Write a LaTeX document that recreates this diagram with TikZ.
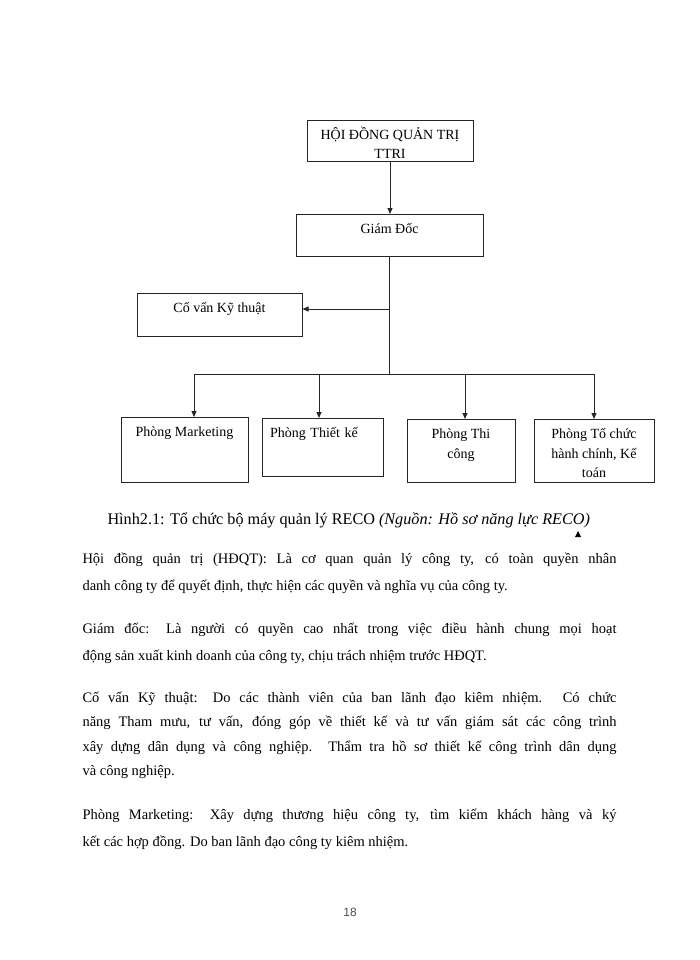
\documentclass[tikz,border=0pt]{standalone}
\usepackage{fontspec}
\setmainfont{Liberation Serif}
\newfontfamily\pagenofont{Liberation Sans}
\usetikzlibrary{arrows.meta}

\newcommand\bodyfont{\fontsize{14.5}{17}\selectfont}
\newcommand\jline[1]{\makebox[534pt][s]{#1}}
\newcommand\boxlines[1]{\begin{tabular}[t]{@{}c@{}}#1\end{tabular}}

\begin{document}
\begin{tikzpicture}[x=1pt,y=-1pt,
  >={Triangle[length=6pt,width=5pt]},
  line width=1pt,
  orgbox/.style={draw=black!85, anchor=north, inner sep=4pt, text height=15pt,
    font=\fontsize{14}{19.5}\selectfont},
  txt/.style={anchor=base west, inner sep=0pt, font=\bodyfont}]
\fill[white] (0,0) rectangle (700,960);
\useasboundingbox (0,0) rectangle (700,960);

% organisation chart
\node[orgbox, minimum width=166pt, text depth=18pt] (hdqt) at (390,120) {\boxlines{HỘI ĐỒNG QUẢN TRỊ\\TTRI}};
\node[orgbox, minimum width=187pt, text depth=19pt] (gd) at (389.5,214) {Giám Đốc};
\node[orgbox, minimum width=165pt, text depth=20pt] (cv) at (219.5,293) {Cố vấn Kỹ thuật};
\node[orgbox, minimum width=127pt, text depth=42pt] (mkt) at (184.5,417) {Phòng Marketing};
\node[orgbox, text width=105pt, inner xsep=8pt, align=left, text depth=35pt] (tk) at (322.5,418) {Phòng Thiết kế};
\node[orgbox, minimum width=108pt, text depth=40pt] (tc) at (461,419) {\boxlines{Phòng Thi\\công}};
\node[orgbox, minimum width=120pt, text depth=40pt] (tchc) at (594,419) {\boxlines{Phòng Tổ chức\\hành chính, Kế\\toán}};

\coordinate (cvjoin) at (389.5,309);
\coordinate (busw) at (194,374);
\coordinate (buse) at (594,374);

\draw[->,black!85] (hdqt.south) -- (hdqt.south |- gd.north);
\draw[black!85] (gd.south) -- (gd.south |- busw);
\draw[->,black!85] (cvjoin) -- (cvjoin -| cv.east);
\draw[black!85] (busw) -- (buse);
\foreach \x/\n in {194/mkt, 319/tk, 465/tc, 594/tchc}
  \draw[->,black!85] (\x,374) -- (\x,374 |- \n.north);

% caption
\node[txt, font=\fontsize{16.2}{19}\selectfont] (cap) at (107,524) {Hình2.1: Tổ chức bộ máy quản lý RECO \textit{(Nguồn: Hồ sơ năng lực RECO)}};
\fill (575,537) -- (581,537) -- (578,531) -- cycle;

% text
\node[txt] (p1a) at (82,563) {\jline{Hội đồng quản trị (HĐQT): Là cơ quan quản lý công ty, có toàn quyền nhân}};
\node[txt] (p1b) at (82,590) {danh công ty để quyết định, thực hiện các quyền và nghĩa vụ của công ty.};
\node[txt] (p2a) at (82,633) {\jline{Giám đốc: Là người có quyền cao nhất trong việc điều hành chung mọi hoạt}};
\node[txt] (p2b) at (82,660) {động sản xuất kinh doanh của công ty, chịu trách nhiệm trước HĐQT.};
\node[txt] (p3a) at (82,702) {\jline{Cố vấn Kỹ thuật: Do các thành viên của ban lãnh đạo kiêm nhiệm. Có chức}};
\node[txt] (p3b) at (82,726) {\jline{năng Tham mưu, tư vấn, đóng góp về thiết kế và tư vấn giám sát các công trình}};
\node[txt] (p3c) at (82,751) {\jline{xây dựng dân dụng và công nghiệp. Thẩm tra hồ sơ thiết kế công trình dân dụng}};
\node[txt] (p3d) at (82,775) {và công nghiệp.};
\node[txt] (p4a) at (82,819) {\jline{Phòng Marketing: Xây dựng thương hiệu công ty, tìm kiếm khách hàng và ký}};
\node[txt] (p4b) at (82,846) {kết các hợp đồng. Do ban lãnh đạo công ty kiêm nhiệm.};

\node[font=\pagenofont\fontsize{12}{14}\selectfont, text=black!70] (pageno) at (350,912) {18};
\end{tikzpicture}
\end{document}
